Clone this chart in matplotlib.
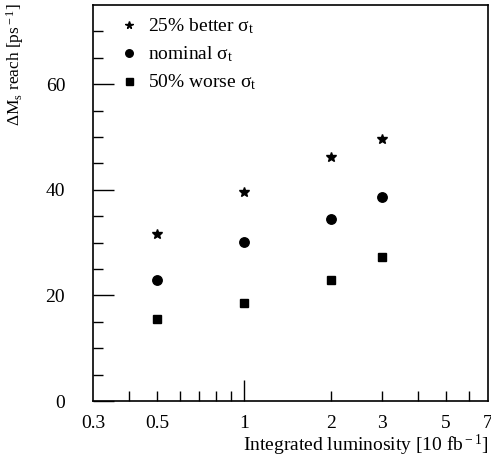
import matplotlib
matplotlib.use("Agg")
import matplotlib.pyplot as plt
from matplotlib.ticker import FixedLocator, NullFormatter

plt.rcParams['font.family'] = ['Liberation Serif', 'DejaVu Serif']
plt.rcParams['mathtext.fontset'] = 'custom'
plt.rcParams['mathtext.rm'] = 'Liberation Serif'
plt.rcParams['mathtext.it'] = 'Liberation Serif:italic'
plt.rcParams['font.size'] = 14

# luminosity points [10 fb^-1]
lumi = [0.5, 1, 2, 3]
# Delta M_s reach [ps^-1]
better = [31.6, 39.6, 46.2, 49.6]
nominal = [23.0, 30.1, 34.5, 38.6]
worse = [15.6, 18.6, 23.0, 27.2]

xticks = [0.3, 0.5, 1, 2, 3, 5, 7]
xlabels = ["0.3", "0.5", "1", "2", "3", "5", "7"]

fig = plt.figure(figsize=(4.91, 4.68), dpi=100)
ax = fig.add_axes([93 / 491, 1 - 401 / 468, 395 / 491, 396 / 468])

ax.plot(lumi, better, ls='none', marker='*', ms=7, color='black',
        label='25% better σ$_{\\rm t}$')
ax.plot(lumi, nominal, ls='none', marker='o', ms=6.8, color='black',
        label='nominal σ$_{\\rm t}$')
ax.plot(lumi, worse, ls='none', marker='s', ms=6.3, color='black',
        label='50% worse σ$_{\\rm t}$')

ax.set_xscale('log')
ax.set_xlim(0.3, 7)
ax.set_ylim(0, 75)

# x ticks: long one at 1, short ones elsewhere, labels as in the original
ax.xaxis.set_major_locator(FixedLocator([1]))
ax.xaxis.set_major_formatter(NullFormatter())
ax.xaxis.set_minor_locator(FixedLocator([0.4, 0.5, 0.6, 0.7, 0.8, 0.9, 2, 3, 4, 5, 6]))
ax.xaxis.set_minor_formatter(NullFormatter())
ax.tick_params(axis='x', which='major', direction='in', length=15, width=1)
ax.tick_params(axis='x', which='minor', direction='in', length=7, width=1)
for xv, lab in zip(xticks, xlabels):
    ax.text(xv, -0.035, lab, transform=ax.get_xaxis_transform(),
            ha='center', va='top', fontsize=14)

ax.set_yticks([0, 20, 40, 60])
ax.set_yticks(range(5, 75, 5), minor=True)
ax.tick_params(axis='y', which='major', direction='in', length=15, width=1,
               pad=20, labelsize=14)
ax.tick_params(axis='y', which='minor', direction='in', length=7, width=1)

for s in ax.spines.values():
    s.set_linewidth(1.2)

ax.set_xlabel('Integrated luminosity [10 fb$^{\\rm -1}$]', fontsize=14)
ax.xaxis.set_label_coords(1.0, -0.113)
ax.xaxis.label.set_ha('right')
ax.xaxis.label.set_va('center')
ax.set_ylabel('ΔM$_{\\rm s}$ reach [ps$^{\\rm -1}$]', fontsize=12.5)
ax.yaxis.set_label_coords(-0.197, 1.005)
ax.yaxis.label.set_va('center')
ax.yaxis.label.set_ha('right')

ax.legend(loc='upper left', frameon=False, handlelength=1.0, handletextpad=0.5,
          labelspacing=0.42, borderaxespad=0.2, bbox_to_anchor=(0.037, 1.0),
          markerscale=0.8, fontsize=14)

fig.savefig('out.png', dpi=100)
